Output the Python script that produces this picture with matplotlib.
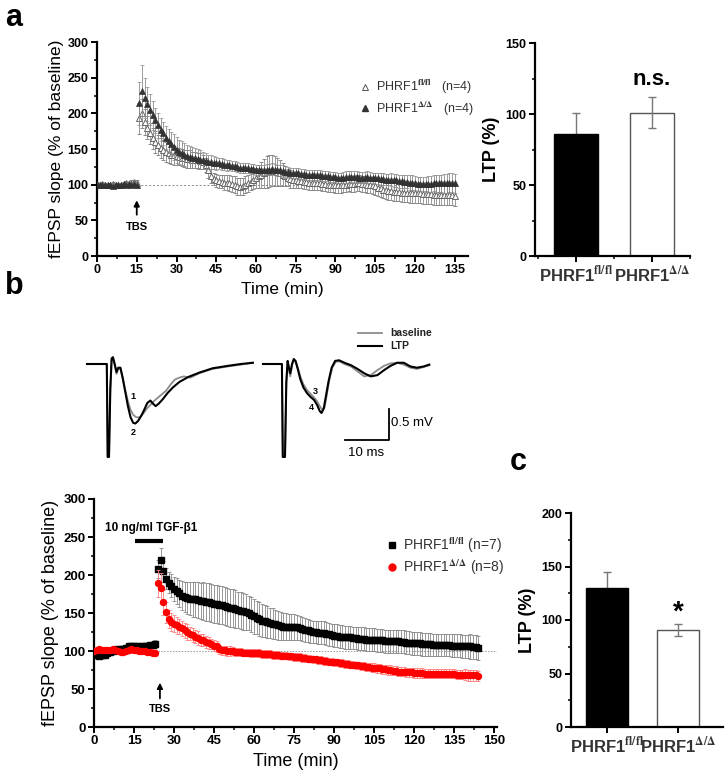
import numpy as np
import matplotlib
matplotlib.use('Agg')
import matplotlib.pyplot as plt
from matplotlib.ticker import MultipleLocator
from matplotlib.lines import Line2D

plt.rcParams['font.family'] = ['Liberation Sans', 'DejaVu Sans']
plt.rcParams['font.weight'] = 'bold'
plt.rcParams['mathtext.fontset'] = 'stix'

# ---------------- panel a : time course (1 point / min) ----------------
ta_base = np.arange(0, 16)
ta_post = np.arange(16, 136)

a_fl_base = [100, 99, 101, 100, 99, 100, 101, 100, 99, 100, 101, 102, 101, 103, 104, 102]
a_dd_base = [101, 100, 99, 100, 100, 99, 98, 100, 99, 100, 101, 100, 101, 100, 101, 100]
a_base_err = [3, 3, 3, 3, 3, 3, 3, 3, 3, 3, 3, 3, 3, 3, 3, 4]

a_dd_post = [214, 232, 222, 213, 205, 197, 190, 183, 177, 172,
             166, 161, 157, 153, 149, 146, 144, 142, 140, 139,
             138, 137, 136, 135, 134, 133, 132, 132, 131, 130,
             130, 129, 128, 127, 127, 126, 126, 125, 124, 124,
             123, 123, 122, 122, 121, 121, 120, 120, 121, 121,
             122, 121, 120, 120, 119, 118, 118, 117, 117, 116,
             116, 115, 115, 114, 114, 114, 113, 113, 113, 112,
             112, 112, 111, 111, 111, 110, 110, 110, 111, 111,
             111, 111, 111, 110, 110, 110, 111, 110, 109, 109,
             109, 108, 108, 107, 107, 107, 106, 106, 105, 105,
             104, 104, 103, 103, 102, 101, 101, 101, 101, 101,
             101, 102, 102, 102, 102, 102, 102, 103, 103, 102]
a_dd_err = [30, 36, 28, 24, 22, 20, 18, 17, 16, 16,
            16, 17, 17, 18, 18, 17, 17, 16, 16, 15,
            15, 14, 14, 13, 12, 11, 10, 10, 9, 9,
            8, 8, 8, 8, 7, 7, 7, 7, 7, 7,
            7, 7, 7, 7, 7, 7, 7, 7, 8, 8,
            8, 8, 8, 8, 8, 8, 7, 7, 7, 7,
            7, 7, 7, 7, 7, 7, 7, 7, 7, 7,
            7, 7, 7, 7, 7, 7, 7, 8, 8, 8,
            8, 8, 8, 8, 8, 8, 8, 8, 8, 8,
            8, 8, 8, 8, 8, 9, 9, 9, 9, 9,
            9, 9, 10, 10, 10, 10, 10, 10, 10, 11,
            11, 11, 12, 12, 12, 13, 13, 13, 13, 13]

a_fl_post = [193, 200, 188, 180, 172, 165, 160, 155, 151, 148,
             146, 144, 142, 141, 140, 139, 138, 137, 136, 136,
             135, 135, 134, 133, 132, 128, 120, 112, 108, 106,
             105, 104, 103, 103, 102, 101, 100, 98, 97, 98,
             100, 102, 104, 107, 110, 112, 114, 116, 118, 119,
             120, 119, 118, 116, 114, 112, 110, 108, 107, 106,
             105, 105, 104, 104, 103, 103, 103, 102, 102, 101,
             101, 100, 100, 100, 99, 99, 99, 100, 100, 101,
             101, 101, 102, 102, 101, 101, 100, 100, 99, 98,
             96, 95, 93, 92, 91, 91, 90, 90, 90, 89,
             89, 89, 88, 88, 88, 88, 88, 87, 87, 87,
             87, 86, 86, 86, 86, 85, 85, 85, 85, 84]
a_fl_err = [22, 20, 18, 16, 15, 15, 15, 14, 14, 14,
            14, 13, 13, 13, 12, 12, 12, 12, 12, 12,
            11, 11, 11, 11, 10, 10, 10, 10, 9, 9,
            9, 9, 10, 10, 11, 11, 12, 12, 12, 12,
            12, 12, 12, 13, 14, 16, 18, 20, 22, 22,
            22, 21, 20, 18, 16, 14, 12, 12, 11, 11,
            10, 10, 10, 10, 10, 10, 10, 10, 10, 10,
            10, 10, 10, 10, 10, 10, 10, 10, 10, 10,
            11, 11, 11, 11, 11, 11, 11, 11, 12, 12,
            12, 12, 12, 12, 12, 12, 13, 13, 13, 13,
            13, 13, 13, 13, 14, 14, 14, 14, 14, 14,
            14, 14, 14, 14, 14, 14, 14, 14, 14, 14]

# panel a : LTP bars
bar_groups = [r'PHRF1$^{\mathrm{fl/fl}}$', r'PHRF1$^{\Delta/\Delta}$']
a_ltp = [86, 101]
a_ltp_err = [15, 11]

# ---------------- panel b : example traces (ms, mV) ----------------
trL_ltp_t = [0, 4.5, 4.7, 5.0, 5.3, 5.6, 5.9, 6.3, 6.7, 7.1, 7.6, 8.1, 8.7, 9.3, 9.9, 10.5, 11.0,
             11.6, 12.3, 13.0, 13.7, 14.4, 15.0, 15.6, 16.3, 17.2, 18.3, 19.5, 21.0, 23.0, 25.5,
             28.5, 32.0, 35.0, 37.7]
trL_ltp_v = [0, 0, -1.5, -1.5, -0.4, 0.09, 0.11, 0.0, -0.13, -0.06, -0.06, -0.22, -0.45, -0.68,
             -0.86, -0.95, -0.96, -0.92, -0.84, -0.74, -0.63, -0.59, -0.64, -0.68, -0.64, -0.57,
             -0.47, -0.38, -0.29, -0.21, -0.14, -0.07, -0.03, 0.0, 0.02]
trL_base_t = [0, 4.5, 4.7, 5.0, 5.3, 5.6, 5.9, 6.3, 6.7, 7.1, 7.6, 8.1, 8.7, 9.3, 9.9, 10.5, 11.2,
              12.0, 12.8, 13.6, 14.4, 15.2, 16.0, 17.0, 18.0, 19.0, 20.0, 21.0, 22.0, 23.5, 25.5,
              28.5, 32.0, 35.0, 37.7]
trL_base_v = [0, 0, -1.5, -1.5, -0.4, 0.07, 0.09, -0.02, -0.16, -0.08, -0.08, -0.22, -0.42, -0.6,
              -0.74, -0.82, -0.86, -0.86, -0.8, -0.72, -0.66, -0.6, -0.55, -0.49, -0.43, -0.33,
              -0.25, -0.22, -0.2, -0.22, -0.15, -0.08, -0.04, -0.01, 0.02]
trR_ltp_t = [0, 4.3, 4.5, 5.0, 5.3, 5.6, 5.9, 6.2, 6.6, 7.0, 7.4, 7.9, 8.5, 9.2, 10.0, 10.8, 11.6,
             12.3, 12.9, 13.3, 13.8, 14.3, 14.9, 15.6, 16.4, 17.3, 18.5, 20.0, 21.5, 23.0, 24.5,
             26.0, 27.5, 29.0, 30.5, 32.0, 33.5, 35.0, 36.5, 37.8]
trR_ltp_v = [0, 0, -1.5, -1.5, -0.3, 0.05, -0.06, -0.15, 0.0, 0.08, 0.05, -0.08, -0.25, -0.38,
             -0.47, -0.53, -0.58, -0.66, -0.76, -0.79, -0.72, -0.52, -0.28, -0.06, 0.05, 0.06,
             0.02, -0.02, -0.08, -0.15, -0.2, -0.18, -0.1, -0.03, 0.02, 0.02, -0.04, -0.06,
             -0.04, -0.01]
trR_base_t = [0, 4.3, 4.5, 5.0, 5.3, 5.6, 5.9, 6.2, 6.6, 7.0, 7.4, 7.9, 8.5, 9.2, 10.0, 10.8, 11.6,
              12.3, 12.9, 13.5, 14.0, 14.5, 15.1, 15.8, 16.6, 17.5, 18.5, 20.0, 21.5, 23.0, 24.5,
              26.0, 27.5, 29.0, 30.5, 32.0, 33.5, 35.0, 36.5, 37.8]
trR_base_v = [0, 0, -1.5, -1.5, -0.3, 0.03, -0.1, -0.2, -0.02, 0.06, 0.04, -0.06, -0.2, -0.33,
              -0.42, -0.48, -0.54, -0.6, -0.68, -0.74, -0.7, -0.5, -0.25, -0.05, 0.04, 0.04,
              0.0, -0.04, -0.12, -0.2, -0.18, -0.1, -0.03, 0.01, 0.02, -0.01, -0.06, -0.08,
              -0.05, -0.02]
trR_offset = 40.0

# ---------------- panel b : time course with TGF-b1 ----------------
tb_base = np.arange(0, 24)
tb_post = np.arange(24, 145)

b_fl_base = [97, 95, 94, 95, 95, 97, 99, 100, 101, 102, 103, 103, 104, 106, 107, 107, 106, 105,
             106, 107, 107, 108, 108, 109]
b_dd_base = [100, 101, 102, 101, 101, 101, 101, 102, 101, 100, 99, 99, 100, 101, 102, 101, 101,
             100, 100, 100, 99, 99, 98, 97]
b_fl_base_err = [3, 3, 3, 3, 3, 3, 3, 3, 3, 3, 3, 3, 3, 3, 3, 3, 3, 3, 3, 3, 3, 3, 4, 5]
b_dd_base_err = [3, 3, 3, 3, 3, 3, 3, 3, 3, 3, 3, 3, 3, 3, 3, 3, 3, 3, 3, 3, 3, 3, 4, 4]

b_fl_post = [208, 220, 205, 195, 190, 186, 182, 179, 176, 173,
             171, 170, 169, 168, 168, 167, 166, 166, 165, 164,
             163, 162, 162, 161, 160, 159, 158, 157, 156, 155,
             154, 153, 152, 151, 150, 148, 146, 144, 142, 140,
             139, 138, 137, 136, 135, 134, 133, 132, 132, 132,
             132, 132, 131, 130, 129, 128, 127, 126, 125, 125,
             124, 124, 124, 123, 122, 121, 120, 120, 119, 119,
             118, 118, 118, 117, 117, 116, 116, 116, 115, 115,
             115, 115, 114, 114, 114, 113, 113, 113, 113, 113,
             113, 112, 112, 111, 111, 110, 110, 110, 110, 109,
             109, 109, 109, 108, 108, 108, 108, 108, 108, 108,
             107, 107, 107, 107, 106, 106, 106, 106, 105, 105,
             104]
b_fl_err = [12, 16, 14, 14, 14, 15, 16, 17, 18, 19,
            20, 21, 22, 23, 23, 24, 24, 25, 25, 25,
            25, 25, 25, 25, 25, 25, 25, 25, 25, 25,
            24, 24, 24, 24, 23, 23, 23, 22, 22, 22,
            21, 21, 20, 20, 19, 19, 18, 18, 18, 17,
            17, 17, 16, 16, 16, 16, 15, 15, 15, 15,
            15, 15, 15, 15, 15, 15, 15, 15, 15, 15,
            15, 15, 15, 15, 15, 15, 15, 15, 15, 15,
            15, 15, 15, 15, 15, 15, 15, 15, 15, 15,
            15, 15, 15, 15, 15, 15, 15, 15, 15, 15,
            15, 15, 15, 15, 15, 15, 15, 15, 15, 15,
            15, 15, 15, 15, 15, 15, 15, 16, 16, 16,
            16]

b_dd_post = [189, 183, 164, 151, 142, 138, 136, 134, 132, 130,
             127, 125, 123, 121, 119, 117, 115, 114, 112, 111,
             109, 107, 106, 102, 101, 101, 100, 100, 100, 99,
             99, 99, 98, 98, 98, 97, 97, 97, 97, 96,
             96, 96, 96, 95, 95, 95, 94, 94, 94, 93,
             93, 92, 92, 92, 91, 91, 90, 90, 89, 89,
             88, 88, 87, 87, 86, 86, 85, 85, 84, 84,
             83, 83, 82, 82, 81, 81, 80, 80, 79, 79,
             78, 78, 77, 77, 76, 76, 75, 75, 74, 74,
             73, 73, 73, 72, 72, 72, 71, 71, 71, 71,
             70, 70, 70, 70, 70, 70, 70, 70, 70, 70,
             70, 70, 69, 69, 69, 69, 68, 68, 68, 68,
             67]
b_dd_err = [18, 20, 16, 14, 12, 12, 11, 11, 10, 10,
            10, 10, 9, 9, 9, 9, 8, 8, 8, 8,
            7, 7, 7, 6, 6, 6, 6, 6, 5, 5,
            5, 5, 5, 5, 5, 5, 5, 5, 5, 5,
            5, 5, 5, 5, 5, 5, 5, 5, 5, 5,
            5, 5, 5, 5, 5, 5, 5, 5, 5, 5,
            5, 5, 5, 5, 5, 5, 5, 5, 5, 5,
            5, 5, 5, 5, 5, 5, 5, 5, 5, 5,
            6, 6, 6, 6, 6, 6, 6, 6, 6, 6,
            6, 6, 6, 6, 6, 6, 6, 6, 6, 6,
            6, 6, 6, 6, 6, 6, 6, 6, 6, 6,
            6, 6, 6, 6, 6, 7, 7, 7, 7, 7,
            7]

tgf_window = [15.3, 25.9]

# panel c : LTP bars
c_ltp = [130, 91]
c_ltp_err = [15, 5.5]

W, H = 728, 782
fig = plt.figure(figsize=(W / 100, H / 100), dpi=100)


def box(left, top, right, bottom):
    return [left / W, 1 - bottom / H, (right - left) / W, (bottom - top) / H]


def style(ax):
    for s in ['top', 'right']:
        ax.spines[s].set_visible(False)
    for s in ['left', 'bottom']:
        ax.spines[s].set_linewidth(1.6)
    ax.tick_params(which='major', direction='out', length=4, width=1.4, labelsize=9, pad=2)
    ax.tick_params(which='minor', direction='out', length=2.5, width=1.1)


def time_axes(ax, xmax, ylab_size):
    style(ax)
    ax.set_ylim(0, 300)
    ax.set_xlim(0, xmax)
    ax.xaxis.set_major_locator(MultipleLocator(15))
    ax.xaxis.set_minor_locator(MultipleLocator(7.5))
    ax.yaxis.set_major_locator(MultipleLocator(50))
    ax.yaxis.set_minor_locator(MultipleLocator(25))
    ax.set_xlabel('Time (min)', fontsize=ylab_size, fontweight='normal', labelpad=4)
    ax.set_ylabel('fEPSP slope (% of baseline)', fontsize=ylab_size, fontweight='normal', labelpad=3)


def bar_axes(ax, vals, errs, ymax, width, xlim):
    style(ax)
    ax.bar([0, 1], vals, width=width, color=['black', 'white'],
           edgecolor=['black', '#555555'], linewidth=1.0, zorder=2)
    ax.errorbar([0], [vals[0]], yerr=[errs[0]], fmt='none', ecolor='#777777',
                elinewidth=1.0, capsize=3, capthick=1.0, zorder=1)
    ax.errorbar([1], [vals[1]], yerr=[errs[1]], fmt='none', ecolor='#777777',
                elinewidth=1.0, capsize=3, capthick=1.0, zorder=3)
    ax.set_xlim(*xlim)
    ax.set_ylim(0, ymax)
    ax.set_xticks([0, 1])
    ax.set_xticklabels(bar_groups, fontsize=12, color='#333333')
    ax.yaxis.set_major_locator(MultipleLocator(50))
    ax.yaxis.set_minor_locator(MultipleLocator(25))
    ax.set_ylabel('LTP (%)', fontsize=13, fontweight='bold', labelpad=4)


# ---- a: time course
ax1 = fig.add_axes(box(97, 42, 468, 256))
time_axes(ax1, 140, 12.5)
ax1.plot([15, 136], [100, 100], ls=(0, (2, 2)), color='#888888', lw=0.7, zorder=1)
ek = dict(elinewidth=0.6, capsize=1.5, capthick=0.6, ecolor='#8a8a8a')
ax1.errorbar(np.concatenate([ta_base, ta_post]), a_fl_base + a_fl_post,
             yerr=a_base_err + a_fl_err, fmt='^', ms=4.5, mfc='white', mec='#666666',
             mew=0.7, zorder=2, **ek)
ax1.errorbar(np.concatenate([ta_base, ta_post]), a_dd_base + a_dd_post,
             yerr=a_base_err + a_dd_err, fmt='^', ms=4.5, mfc='#333333', mec='#333333',
             mew=0.5, zorder=3, **ek)
ax1.annotate('', xy=(15, 82), xytext=(15, 54),
             arrowprops=dict(arrowstyle='-|>', color='black', lw=1.3, mutation_scale=8))
ax1.text(15, 41, 'TBS', ha='center', va='center', fontsize=8)
hA = [Line2D([], [], ls='none', marker='^', ms=5, mfc='white', mec='#555555', mew=0.7),
      Line2D([], [], ls='none', marker='^', ms=5, mfc='#333333', mec='#333333')]
ax1.legend(hA, [r'PHRF1$^{\mathrm{fl/fl}}$   (n=4)', r'PHRF1$^{\Delta/\Delta}$   (n=4)'],
           loc='upper left', bbox_to_anchor=(352 / W, 1 - 72 / H),
           bbox_transform=fig.transFigure, frameon=False, borderpad=0,
           handlelength=1.0, handletextpad=0.4, labelspacing=0.25,
           prop=dict(size=9, weight='normal'), labelcolor='#333333')

# ---- a: bars
ax2 = fig.add_axes(box(535, 43, 690, 256))
bar_axes(ax2, a_ltp, a_ltp_err, 150, 0.59, (-0.54, 1.5))
ax2.xaxis.set_minor_locator(MultipleLocator(0.5))
ax2.text(1, 124, 'n.s.', ha='center', va='center', fontsize=16)

# ---- b: example traces
ax3 = fig.add_axes(box(80, 320, 470, 465))
ax3.set_xlim(-1.59, 87.05)
ax3.set_ylim(-1.63, 0.71)
ax3.axis('off')
ax3.plot(trL_base_t, trL_base_v, color='#8c8c8c', lw=1.3)
ax3.plot(trL_ltp_t, trL_ltp_v, color='black', lw=1.5)
ax3.plot(np.array(trR_base_t) + trR_offset, trR_base_v, color='#8c8c8c', lw=1.3)
ax3.plot(np.array(trR_ltp_t) + trR_offset, trR_ltp_v, color='black', lw=1.5)
ax3.plot([58.6, 68.6, 68.6], [-1.226, -1.226, -0.726], color='black', lw=1.3)
ax3.text(69.2, -0.96, '0.5 mV', fontsize=9.5, fontweight='normal', va='center', ha='left')
ax3.text(63.4, -1.43, '10 ms', fontsize=9.5, fontweight='normal', va='center', ha='center')
ax3.plot([61.6, 67.0], [0.50, 0.50], color='#8c8c8c', lw=1.3)
ax3.plot([61.6, 67.0], [0.29, 0.29], color='black', lw=1.5)
ax3.text(68.9, 0.50, 'baseline', fontsize=7.5, va='center', color='#222222')
ax3.text(68.9, 0.29, 'LTP', fontsize=7.5, va='center', color='#222222')
for lab, x, y in [('1', 10.5, -0.52), ('2', 10.5, -1.11), ('3', 52.0, -0.44), ('4', 50.9, -0.71)]:
    ax3.text(x, y, lab, fontsize=6.5, ha='center', va='center')

# ---- b: time course
ax4 = fig.add_axes(box(94, 499, 497, 727))
time_axes(ax4, 151, 13)
ax4.tick_params(labelsize=9.5)
ax4.plot([23, 151], [100, 100], ls=(0, (1.5, 1.5)), color='#999999', lw=0.7, zorder=1)
ax4.errorbar(np.concatenate([tb_base, tb_post]), b_fl_base + b_fl_post,
             yerr=b_fl_base_err + b_fl_err, fmt='s', ms=3.8, mfc='black', mec='black',
             elinewidth=0.6, capsize=1.5, capthick=0.6, ecolor='#888888', zorder=2)
ax4.errorbar(np.concatenate([tb_base, tb_post]), b_dd_base + b_dd_post,
             yerr=b_dd_base_err + b_dd_err, fmt='o', ms=4.3, mfc='#ff0000', mec='#ff0000',
             elinewidth=0.6, capsize=1.5, capthick=0.6, ecolor='#ff8080', zorder=3)
ax4.plot(tgf_window, [245, 245], color='black', lw=3, solid_capstyle='butt')
ax4.text(4, 262, '10 ng/ml TGF-β1', fontsize=8.5, ha='left', va='center')
ax4.annotate('', xy=(24.7, 62), xytext=(24.7, 34),
             arrowprops=dict(arrowstyle='-|>', color='black', lw=1.3, mutation_scale=8))
ax4.text(24.7, 24, 'TBS', ha='center', va='center', fontsize=8)
hB = [Line2D([], [], ls='none', marker='s', ms=4.5, mfc='black', mec='black'),
      Line2D([], [], ls='none', marker='o', ms=5, mfc='#ff0000', mec='#ff0000')]
ax4.legend(hB, [r'PHRF1$^{\mathrm{fl/fl}}$ (n=7)', r'PHRF1$^{\Delta/\Delta}$ (n=8)'],
           loc='upper left', bbox_to_anchor=(379 / W, 1 - 528 / H),
           bbox_transform=fig.transFigure, frameon=False, borderpad=0,
           handlelength=0.9, handletextpad=0.3, labelspacing=0.2,
           prop=dict(size=10, weight='normal'), labelcolor='#333333')

# ---- c: bars
ax5 = fig.add_axes(box(571, 513, 723, 727))
bar_axes(ax5, c_ltp, c_ltp_err, 200, 0.6, (-0.507, 1.634))
ax5.text(1, 107, '*', ha='center', va='center', fontsize=20)

# panel letters
fig.text(5 / W, 1 - 26 / H, 'a', fontsize=22, va='baseline')
fig.text(5 / W, 1 - 294 / H, 'b', fontsize=22, va='baseline')
fig.text(510 / W, 1 - 470 / H, 'c', fontsize=22, va='baseline')

fig.savefig('out.png', dpi=100)
